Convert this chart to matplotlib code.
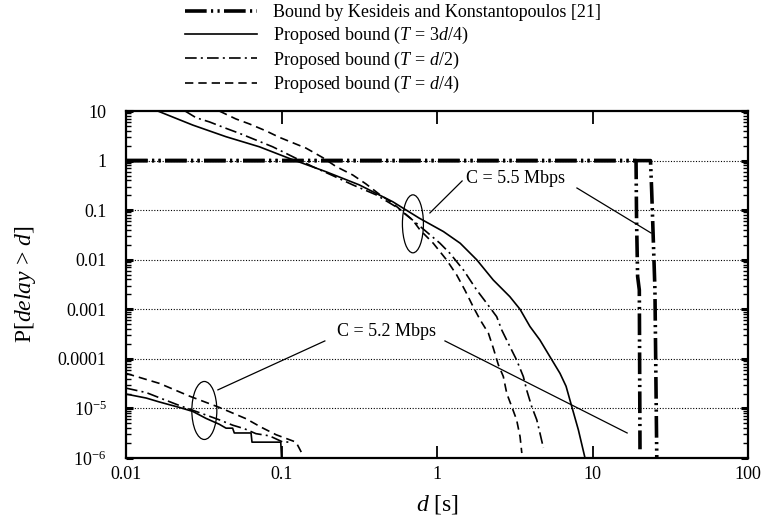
import numpy as np
import matplotlib
matplotlib.use('Agg')
import matplotlib.pyplot as plt
from matplotlib.patches import Ellipse
from matplotlib.transforms import ScaledTranslation


plt.rcParams['font.family'] = ['Liberation Serif', 'DejaVu Serif']
plt.rcParams['mathtext.fontset'] = 'custom'
plt.rcParams['mathtext.rm'] = 'Liberation Serif'
plt.rcParams['mathtext.it'] = 'Liberation Serif:italic'

# C = 5.5 Mbps, proposed bounds
d_55_t34 = [0.016, 0.0269, 0.044, 0.072, 0.112, 0.193, 0.316, 0.519, 0.769, 1.10,
            1.41, 1.80, 2.30, 2.94, 3.42, 3.96, 4.59, 5.33, 6.18, 6.76, 7.35, 8.11, 8.95]
p_55_t34 = [10, 5.2, 3.03, 1.9, 1.11, 0.597, 0.324, 0.148, 0.069, 0.037,
            0.0215, 0.01, 0.0039, 0.0018, 0.001, 4.5e-4, 2.4e-4, 1.1e-4, 5.1e-5,
            2.8e-5, 1.1e-5, 3.7e-6, 1e-6]

d_55_t12 = [0.024, 0.0282, 0.0344, 0.044, 0.0536, 0.0685, 0.0877, 0.118, 0.158, 0.213,
            0.287, 0.406, 0.545, 0.698, 1.045, 1.21, 1.48, 1.80, 2.09, 2.42, 2.61,
            2.94, 3.25, 3.59, 3.78, 4.06, 4.38, 4.59, 4.83]
p_55_t12 = [10, 7.33, 6.03, 4.47, 3.55, 2.6, 1.9, 1.2, 0.76, 0.5, 0.324, 0.204, 0.117,
            0.063, 0.0215, 0.0135, 0.0062, 0.00245, 0.00132, 7.1e-4, 3.8e-4, 1.78e-4,
            9.5e-5, 4.4e-5, 2.3e-5, 1.1e-5, 5.9e-6, 3.2e-6, 1.6e-6]

d_55_t14 = [0.0398, 0.0509, 0.0621, 0.0794, 0.0968, 0.144, 0.184, 0.224, 0.287, 0.349,
            0.426, 0.519, 0.698, 0.778, 0.946, 1.15, 1.34, 1.51, 1.71, 1.89, 2.14,
            2.30, 2.48, 2.67, 2.81, 3.02, 3.25, 3.42, 3.51]
p_55_t14 = [10, 6.92, 5.5, 3.98, 2.95, 1.78, 1.15, 0.76, 0.513, 0.339, 0.209, 0.138,
            0.063, 0.0398, 0.0215, 0.01, 0.0049, 0.00245, 0.00112, 6.2e-4, 3.3e-4,
            1.66e-4, 7.6e-5, 4.4e-5, 2.0e-5, 1.1e-5, 5.9e-6, 2.7e-6, 1.26e-6]

# C = 5.2 Mbps, proposed bounds
d_52_t34 = [0.01, 0.0135, 0.0164, 0.022, 0.0269, 0.0327, 0.0398, 0.044, 0.0485,
            0.0497, 0.0637, 0.0646, 0.0989, 0.1]
p_52_t34 = [1.95e-5, 1.62e-5, 1.35e-5, 1.05e-5, 8.7e-6, 6.3e-6, 4.8e-6, 4.0e-6,
            4.0e-6, 3.2e-6, 3.2e-6, 2.09e-6, 2.09e-6, 1e-6]

d_52_t12 = [0.01, 0.0135, 0.0172, 0.022, 0.0311, 0.0398, 0.0485, 0.0577, 0.0685,
            0.0836, 0.102, 0.112]
p_52_t12 = [2.57e-5, 2.09e-5, 1.55e-5, 1.15e-5, 7.8e-6, 5.9e-6, 4.6e-6, 3.9e-6,
            3.1e-6, 2.8e-6, 2.1e-6, 2.1e-6]

d_52_t14 = [0.01, 0.0164, 0.0255, 0.0398, 0.0592, 0.0738, 0.0923, 0.124, 0.13, 0.137]
p_52_t14 = [5.1e-5, 3.2e-5, 1.78e-5, 1.05e-5, 6.2e-6, 4.2e-6, 2.95e-6, 2.09e-6,
            1.58e-6, 1.15e-6]

# bound by Kesideis and Konstantopoulos
d_kes_a = [0.01, 19.05, 19.2, 19.5, 20.0, 20.2]
p_kes_a = [1, 1, 0.063, 0.0046, 0.00245, 1.5e-6]
d_kes_b = [0.01, 23.6, 24.0, 24.4, 25.2, 25.9]
p_kes_b = [1, 1, 0.26, 0.055, 0.0025, 1e-6]

y_ticks = [10, 1, 0.1, 0.01, 0.001, 0.0001, 1e-5, 1e-6]
y_tick_labels = ['10', '1', '0.1', '0.01', '0.001', '0.0001', r'$10^{-5}$', r'$10^{-6}$']
x_ticks = [0.01, 0.1, 1, 10, 100]
x_tick_labels = ['0.01', '0.1', '1', '10', '100']

labels = ['Bound by Kesideis and Konstantopoulos [21]',
          'Proposed bound ($T$ = 3$d$/4)',
          'Proposed bound ($T$ = $d$/2)',
          'Proposed bound ($T$ = $d$/4)']

KES = dict(color='black', lw=2.6, ls=(0, (6, 1.2, 0.6, 1.2, 0.6, 1.2)))
SOLID = dict(color='black', lw=1.2, ls='-')
DASHDOT = dict(color='black', lw=1.2, ls=(0, (7, 2.5, 1.2, 2.5)))
DASHED = dict(color='black', lw=1.2, ls=(0, (5, 3)))


def ring(ax, fig, x, y, w, h):
    trans = fig.dpi_scale_trans + ScaledTranslation(x, y, ax.transData)
    ax.add_patch(Ellipse((0, 0), w, h, transform=trans, fill=False,
                         color='black', lw=0.9, zorder=5))


def plot_delay() -> None:
    fig = plt.figure(figsize=(7.65, 5.2), dpi=100)
    ax = fig.add_axes([0.1647, 0.1192, 0.8131, 0.6673])
    ax.set_xscale('log')
    ax.set_yscale('log')
    ax.set_xlim(0.01, 100)
    ax.set_ylim(1e-6, 10)

    for yv in y_ticks[1:-1]:
        ax.axhline(yv, color='black', lw=0.8, ls=(0, (1, 1.5)), zorder=1)

    h_kes, = ax.plot(d_kes_a, p_kes_a, **KES)
    ax.plot(d_kes_b, p_kes_b, **KES)
    h_t34, = ax.plot(d_55_t34, p_55_t34, **SOLID)
    h_t12, = ax.plot(d_55_t12, p_55_t12, **DASHDOT)
    h_t14, = ax.plot(d_55_t14, p_55_t14, **DASHED)
    ax.plot(d_52_t34, p_52_t34, **SOLID)
    ax.plot(d_52_t12, p_52_t12, **DASHDOT)
    ax.plot(d_52_t14, p_52_t14, **DASHED)

    # annotations
    ring(ax, fig, 0.70, 0.053, 0.21, 0.58)
    ring(ax, fig, 0.0319, 9.1e-6, 0.25, 0.58)
    ax.text(3.18, 0.426, 'C = 5.5 Mbps', fontsize=13, ha='center', va='center')
    ax.text(0.47, 3.5e-4, 'C = 5.2 Mbps', fontsize=13, ha='center', va='center')
    lk = dict(color='black', lw=0.9)
    ax.plot([0.90, 1.45], [0.088, 0.388], **lk)
    ax.plot([7.94, 23.8], [0.28, 0.0346], **lk)
    ax.plot([0.039, 0.19], [2.37e-5, 2.3e-4], **lk)
    ax.plot([1.125, 16.7], [2.3e-4, 3.2e-6], **lk)

    ax.set_xticks(x_ticks)
    ax.set_xticklabels(x_tick_labels)
    ax.set_yticks(y_ticks)
    ax.set_yticklabels(y_tick_labels)
    ax.xaxis.set_minor_locator(matplotlib.ticker.NullLocator())
    ax.yaxis.set_minor_locator(matplotlib.ticker.LogLocator(base=10, subs=np.arange(2, 10)))
    ax.yaxis.set_minor_formatter(matplotlib.ticker.NullFormatter())
    ax.tick_params(axis='x', which='major', direction='in', length=9, width=1.3,
                   top=True, labelsize=13, pad=6)
    ax.tick_params(axis='y', which='major', direction='in', length=5, width=2.2,
                   right=True, labelsize=13, pad=14)
    ax.tick_params(axis='y', which='minor', direction='in', length=3.6, width=1,
                   right=True)
    for s in ax.spines.values():
        s.set_linewidth(1.6)

    ax.set_xlabel('$d$ [s]', fontsize=17)
    ax.xaxis.set_label_coords(0.5, -0.10)
    ax.set_ylabel('P[$delay$ > $d$]', fontsize=17)
    ax.yaxis.set_label_coords(-0.142, 0.5)

    fig.legend([h_kes, h_t34, h_t12, h_t14], labels, loc='upper left',
               bbox_to_anchor=(185 / 765, 0.992), frameon=False, fontsize=13,
               handlelength=4.0, handletextpad=0.88, labelspacing=0.2,
               borderpad=0, borderaxespad=0)

    fig.savefig('out.png', dpi=100)


if __name__ == '__main__':
    plot_delay()
